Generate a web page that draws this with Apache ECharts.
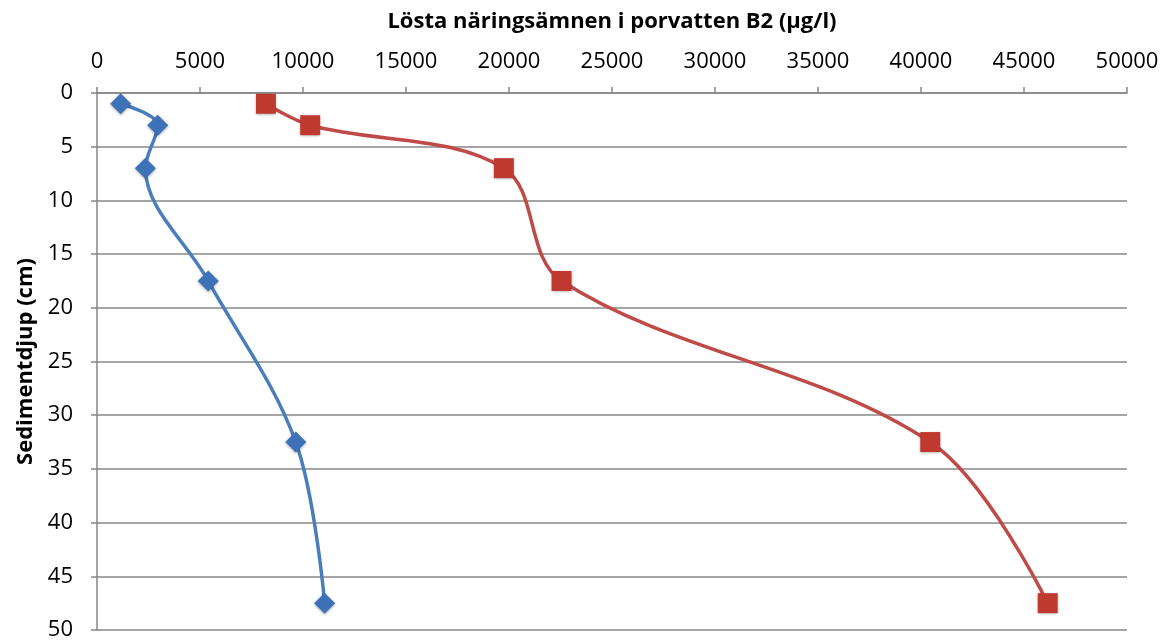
<!DOCTYPE html>
<html><head><meta charset="utf-8">
<script src="https://cdn.jsdelivr.net/npm/echarts@6/dist/echarts.min.js"></script>
<style>html,body{margin:0;padding:0;background:#fff}#c{width:1167px;height:641px}</style>
</head><body><div id="c"></div>
<script>
const depths = [1, 3, 7, 17.5, 32.5, 47.5];
const seriesA = [1150, 2950, 2350, 5400, 9650, 11050];
const seriesB = [8200, 10350, 19750, 22550, 40450, 46150];
const xTitle = 'Lösta näringsämnen i porvatten B2 (µg/l)';
const yTitle = 'Sedimentdjup (cm)';

const font = 'Open Sans, Liberation Sans, sans-serif';
const chart = echarts.init(document.getElementById('c'));
function pts(vals){ return vals.map((v,i)=>[v, depths[i]]); }
chart.setOption({
  animation: false,
  grid: {left: 97, right: 40, top: 93, bottom: 11, containLabel: false, outerBoundsMode: 'none'},
  xAxis: {
    type: 'value', position: 'top', min: 0, max: 50000, interval: 5000,
    name: xTitle, nameLocation: 'middle', nameGap: 60,
    nameTextStyle: {fontFamily: font, fontWeight: 'bold', fontSize: 22, color: '#000'},
    axisLine: {show: true, lineStyle: {color: '#878787', width: 1.5}},
    axisTick: {show: true, inside: false, length: 6, lineStyle: {color: '#878787', width: 1.5}},
    axisLabel: {fontFamily: font, fontSize: 22, color: '#000', margin: 20, formatter: v => String(v)},
    splitLine: {show: false}
  },
  yAxis: {
    type: 'value', inverse: true, min: 0, max: 50, interval: 5,
    name: yTitle, nameLocation: 'middle', nameGap: 58, nameRotate: 90,
    nameTextStyle: {fontFamily: font, fontWeight: 'bold', fontSize: 22, color: '#000'},
    axisLine: {show: true, lineStyle: {color: '#878787', width: 1.5}},
    axisTick: {show: true, inside: false, length: 6, lineStyle: {color: '#878787', width: 1.5}},
    axisLabel: {fontFamily: font, fontSize: 22, color: '#000', margin: 24},
    splitLine: {show: true, lineStyle: {color: '#878787', width: 1.5}}
  },
  series: [
    {type: 'line', data: pts(seriesA), smooth: 0.35, symbol: 'diamond', symbolSize: 21,
     lineStyle: {color: '#4A7EBB', width: 3.5},
     itemStyle: {color: '#3D72B8', shadowBlur: 3, shadowColor: 'rgba(0,0,0,0.35)', shadowOffsetY: 1}},
    {type: 'line', data: pts(seriesB), smooth: 0.35, symbol: 'rect', symbolSize: 20,
     lineStyle: {color: '#BE4B48', width: 3.5},
     itemStyle: {color: '#C0392F', shadowBlur: 3, shadowColor: 'rgba(0,0,0,0.35)', shadowOffsetY: 1}}
  ]
});
</script></body></html>
